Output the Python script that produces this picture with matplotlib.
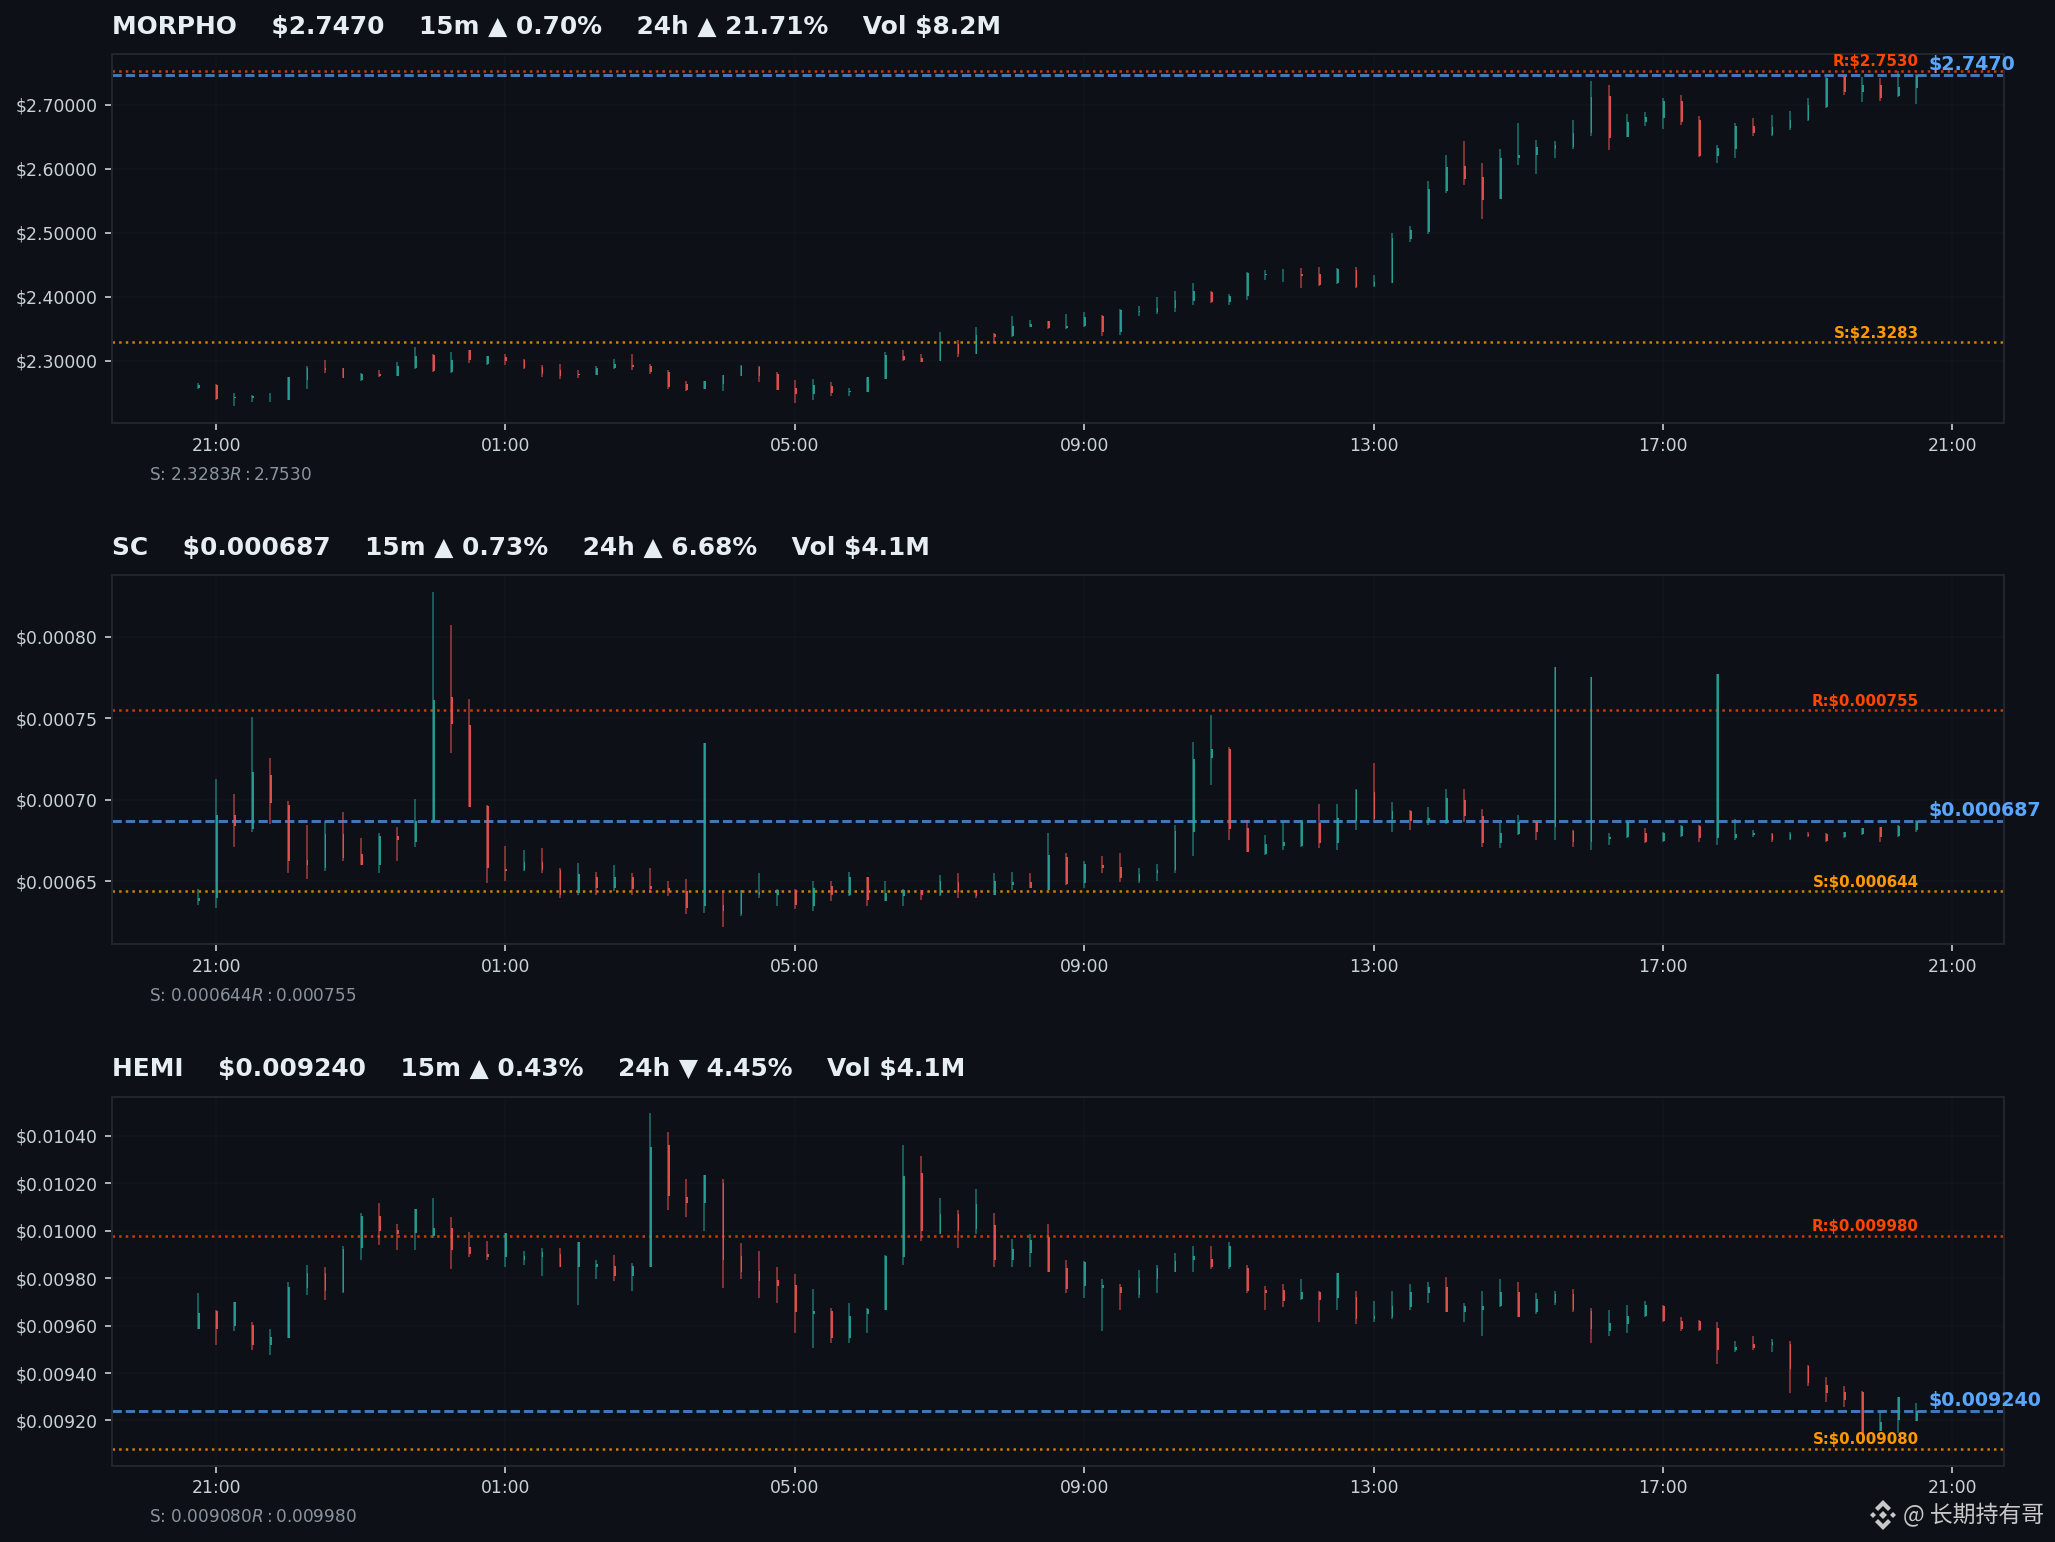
import numpy as np
import matplotlib
matplotlib.use("Agg")
import matplotlib.pyplot as plt
from matplotlib.patches import Polygon
from matplotlib.ticker import FuncFormatter

BG = "#0d1117"
UP = "#26a69a"
DOWN = "#ef5350"

xtick_labels = ["21:00", "01:00", "05:00", "09:00", "13:00", "17:00", "21:00"]
xtick_index = [1, 17, 33, 49, 65, 81, 97]

morpho_high = [2.265,2.2635,2.2495,2.2464,2.2495,2.2745,2.2917,2.3016,2.2885,2.2807,
2.2859,2.2984,2.3219,2.3104,2.3135,2.3167,2.3073,2.3109,2.3026,2.2932,
2.2953,2.2854,2.2917,2.3031,2.3109,2.2953,2.2854,2.2688,2.2688,2.2776,
2.2932,2.2917,2.2823,2.2698,2.2719,2.2672,2.2578,2.2745,2.3135,2.3167,
2.3109,2.3448,2.3328,2.3526,2.3432,2.3703,2.3641,2.3625,2.3729,2.3766,
2.3714,2.3807,2.3859,2.40,2.4089,2.4214,2.4089,2.4042,2.4385,2.4422,
2.4438,2.4453,2.4469,2.4453,2.4469,2.4344,2.50,2.5109,2.5813,2.6219,
2.6438,2.6094,2.6313,2.6719,2.6453,2.6438,2.6766,2.7375,2.7313,2.6859,
2.6891,2.7109,2.7156,2.6828,2.6375,2.6719,2.6797,2.6844,2.6906,2.7109,
2.7438,2.7469,2.7438,2.7422,2.7530,2.7484]
morpho_low = [2.255,2.238,2.2286,2.2349,2.2359,2.238,2.2552,2.2802,2.2724,2.2677,
2.274,2.2755,2.2875,2.2828,2.2802,2.2969,2.2938,2.2938,2.2865,2.275,
2.2719,2.2734,2.2771,2.2875,2.2849,2.2786,2.2552,2.2521,2.2552,2.2521,
2.2755,2.2661,2.2536,2.2333,2.2391,2.2453,2.2453,2.2516,2.2719,2.299,
2.2974,2.30,2.3052,2.3109,2.3271,2.3365,2.3521,2.349,2.349,2.3531,
2.3391,2.3396,2.3693,2.3724,2.3755,2.3875,2.3906,2.3875,2.3943,2.4266,
2.4234,2.4141,2.4172,2.4203,2.4141,2.4156,2.4219,2.4859,2.4984,2.5625,
2.575,2.5219,2.5531,2.6063,2.5922,2.6172,2.6313,2.6516,2.6297,2.65,
2.6672,2.6625,2.6688,2.6188,2.6094,2.6172,2.6516,2.6516,2.6609,2.675,
2.6953,2.7156,2.7047,2.7063,2.7125,2.7016]
morpho_open = [2.257,2.2625,2.2411,2.2422,2.2427,2.239,2.2703,2.2891,2.288,2.2703,
2.2797,2.2755,2.2891,2.3094,2.2823,2.3167,2.2953,2.3057,2.3016,2.2901,
2.2859,2.2797,2.2771,2.2885,2.2938,2.2922,2.2818,2.2641,2.2552,2.2641,
2.2755,2.2906,2.2786,2.2578,2.2474,2.2609,2.2505,2.2516,2.2719,2.3078,
2.3042,2.30,2.3266,2.3109,2.3422,2.3391,2.3531,2.3615,2.3505,2.3542,
2.3703,2.3443,2.3766,2.3766,2.3818,2.3938,2.4078,2.3917,2.4005,2.4339,
2.4349,2.4359,2.4359,2.4219,2.4422,2.4161,2.4219,2.4906,2.5005,2.5656,
2.6047,2.5875,2.5531,2.6172,2.6219,2.6313,2.6344,2.6563,2.7141,2.65,
2.6734,2.6797,2.7063,2.6766,2.6203,2.6313,2.6672,2.6531,2.6641,2.6766,
2.6969,2.7443,2.7203,2.7313,2.7141,2.7266]
morpho_close = [2.2625,2.240,2.2432,2.2453,2.2437,2.2745,2.2885,2.2859,2.2724,2.2797,
2.2755,2.2922,2.3078,2.2833,2.3016,2.3005,2.3068,2.2995,2.288,2.2786,
2.2766,2.2771,2.2891,2.2953,2.2906,2.2828,2.2589,2.2547,2.2677,2.2776,
2.2922,2.2755,2.2547,2.2474,2.2625,2.2495,2.2531,2.2745,2.3094,2.3005,
2.2984,2.3302,2.3109,2.3406,2.3375,2.3547,2.3578,2.3505,2.3547,2.3688,
2.3453,2.3797,2.3781,2.3823,2.3953,2.4094,2.3917,2.4016,2.437,2.4359,
2.4359,2.4328,2.4188,2.4438,2.4156,2.4234,2.4917,2.5047,2.5688,2.6031,
2.5844,2.5516,2.6172,2.6219,2.6344,2.6375,2.6563,2.7125,2.6484,2.6734,
2.6813,2.7063,2.6734,2.6198,2.6328,2.6672,2.6563,2.6656,2.6766,2.70,
2.7422,2.7203,2.7313,2.7099,2.7281,2.7470]

# SC and HEMI prices are listed in millionths of a dollar
sc_high = [645.7,712.8,703.7,750.6,725.6,699.4,684.8,687,692.7,676.8,
679.9,683.5,700.6,827.4,807.3,761.6,697,672,669.5,670.7,
658.5,661.6,656.1,659.8,654.9,658.5,650.6,651.8,734.8,643.9,
645.1,654.9,645.7,645.7,650.6,650,656.1,653,650.6,645.7,
645.1,653.7,654.9,645.1,654.9,656.1,654.9,679.9,667.7,662.8,
665.9,667.7,658.5,661,684.8,735.4,751.8,732.3,687.8,678.7,
686.6,687.8,697.6,697.6,706.7,722.6,698.8,693.9,695.7,706.7,
706.7,694.5,686,690.9,686.6,781.1,681.7,775,679.9,686.6,
682.9,680.5,684.8,684.8,776.8,688.4,681.7,679.9,680.5,680.5,
679.9,680.5,682.9,683.5,684.8,687.8]
sc_low = [635.6,633.5,671.3,680.5,685.4,655.5,651.8,656.7,662.8,659.8,
654.9,662.8,671.3,686.6,728.7,695.7,648.8,650.6,656.7,654.9,
639.6,641.5,641.5,643.9,641.5,642.7,640.9,629.9,630.5,622,
628.7,639.6,634.8,632.9,631.7,637.8,640.9,634.8,637.8,634.8,
638.4,640.9,639.6,639.6,641.5,644.5,646.3,644.5,647.6,646.3,
654.9,649.4,648.8,650.6,654.9,665.9,709.1,675.6,668.3,666.5,
669.5,671.3,670.7,669.5,681.7,687.8,680.5,681.7,684.8,685.4,
686.6,671.3,670.7,678.7,675.6,675.6,671.3,669.5,672.6,676.8,
673.8,674.4,677.4,674.4,672.6,675.6,677.4,674.4,675.6,677.4,
674.4,676.8,678.7,674.4,677.4,680.5]
sc_open = [638,639.6,690.9,682.3,715.2,697,663.4,658.5,679.3,667.1,
660.4,678,674.4,687,762.8,745.7,696.3,657.9,657.3,662.2,
657.3,642.7,653,646.3,653,647,646.3,643.9,634.8,635.4,
629.9,641.5,641.5,645.1,634.8,647,641.5,652.6,637.8,640.9,
644.5,641.5,649.4,644.5,641.5,647.6,649.4,645.1,665.2,648.8,
660.4,659.1,650.6,655.5,657.3,680.5,725.6,731.1,682.9,667.1,
672,672,685.8,673.8,687,704.9,688.4,693.3,687,686,
700,690.2,673.8,679.3,686.4,683.5,681.1,674.4,676,677,
679.7,674.8,678,684.1,676.8,676.8,678.7,679.3,676,679.3,
679.3,677.2,679.1,683.1,678,681.7]
sc_close = [640,690.9,683.7,717.1,698.2,662.8,659.8,679.3,664.6,660.4,
678,675.6,687,761,746.3,695.7,658.5,656.7,662.2,657.3,
641.5,654.3,646.3,653,645.7,645.7,643.9,633.5,734.8,631.7,
644.5,643.3,645.1,635.4,646.3,641.5,653,638.4,642.7,645.1,
641.5,650,643.3,640.9,650,649.4,646.3,666.5,648.2,661,
658.5,652.4,654.3,657.3,681.1,725,731.1,682.3,668.3,673.2,
674.4,686.6,673.8,689,706.1,688.4,693.3,687.2,689,701.2,
690.2,673.8,679.9,686.6,680.5,781.1,674.4,775,677.4,686.4,
674.4,679.7,684.1,676.8,776.8,679.3,679.9,675.6,679.3,677.8,
675,680.1,682.5,677.4,684.1,687]

hemi_high = [9737,9665,9699,9615,9585,9783,9855,9846,9935,10074,
10116,10027,10091,10137,10057,9994,9956,9990,9914,9926,
9926,9952,9876,9897,9863,10495,10415,10217,10234,10217,
9947,9914,9846,9817,9754,9674,9695,9674,9897,10364,
10314,10137,10086,10175,10074,9964,9985,10027,9876,9872,
9796,9775,9834,9855,9905,9935,9935,9952,9855,9766,
9775,9796,9745,9821,9745,9703,9745,9775,9783,9804,
9695,9745,9796,9783,9737,9745,9754,9674,9665,9686,
9703,9686,9636,9623,9615,9535,9556,9543,9535,9434,
9383,9345,9324,9236,9299,9274]
hemi_low = [9585,9518,9577,9497,9476,9547,9728,9707,9737,9876,
9939,9918,9918,9968,9838,9888,9876,9846,9855,9808,
9846,9686,9796,9787,9745,9846,10086,10057,9998,9758,
9796,9716,9695,9568,9505,9526,9526,9568,9665,9855,
9956,9985,9926,9985,9846,9846,9846,9825,9737,9716,
9577,9665,9716,9737,9825,9825,9838,9838,9737,9665,
9678,9707,9615,9665,9606,9615,9627,9665,9695,9657,
9615,9556,9678,9636,9648,9686,9657,9526,9556,9568,
9636,9615,9577,9577,9438,9488,9497,9488,9316,9345,
9278,9257,9139,9156,9147,9198]
hemi_open = [9585,9661,9598,9602,9518,9547,9758,9821,9741,9926,
10061,10002,9990,9977,10011,9931,9901,9888,9876,9888,
9901,9846,9846,9851,9808,9846,10360,10141,10116,10200,
9893,9830,9792,9771,9648,9661,9547,9650,9665,9888,
10242,9985,10069,10006,10023,9876,9905,9974,9842,9766,
9758,9762,9728,9796,9825,9876,9880,9846,9842,9750,
9750,9712,9744,9716,9720,9627,9636,9678,9737,9762,
9657,9665,9682,9741,9657,9695,9733,9661,9577,9606,
9640,9682,9619,9619,9589,9497,9522,9518,9522,9430,
9350,9320,9320,9156,9202,9198]
hemi_close = [9653,9585,9699,9518,9552,9762,9821,9745,9922,10061,
9998,9985,10091,10011,9918,9901,9888,9990,9893,9910,
9846,9952,9859,9808,9851,10352,10145,10116,10234,9876,
9825,9787,9766,9657,9661,9547,9640,9672,9893,10230,
9998,10069,9998,10112,9876,9922,9960,9825,9754,9870,
9771,9737,9800,9842,9872,9893,9846,9935,9745,9737,
9703,9741,9707,9821,9627,9640,9682,9741,9762,9657,
9682,9682,9741,9636,9712,9733,9665,9585,9611,9640,
9686,9619,9585,9581,9497,9510,9505,9531,9417,9358,
9316,9286,9139,9194,9299,9240]

MICRO = 1e-6
panels = [
    dict(o=np.array(morpho_open), h=np.array(morpho_high), l=np.array(morpho_low), c=np.array(morpho_close),
         price=2.7470, sup=2.3283, res=2.7530, fmt="{:.4f}",
         title="MORPHO    \\$2.7470    15m ▲ 0.70%    24h ▲ 21.71%    Vol \\$8.2M",
         yticks=[2.3, 2.4, 2.5, 2.6, 2.7]),
    dict(o=np.array(sc_open)*MICRO, h=np.array(sc_high)*MICRO, l=np.array(sc_low)*MICRO, c=np.array(sc_close)*MICRO,
         price=0.000687, sup=0.000644, res=0.000755, fmt="{:.6f}",
         title="SC    \\$0.000687    15m ▲ 0.73%    24h ▲ 6.68%    Vol \\$4.1M",
         yticks=[0.00065, 0.00070, 0.00075, 0.00080]),
    dict(o=np.array(hemi_open)*MICRO, h=np.array(hemi_high)*MICRO, l=np.array(hemi_low)*MICRO, c=np.array(hemi_close)*MICRO,
         price=0.009240, sup=0.009080, res=0.009980, fmt="{:.6f}",
         title="HEMI    \\$0.009240    15m ▲ 0.43%    24h ▼ 4.45%    Vol \\$4.1M",
         yticks=[0.0092, 0.0094, 0.0096, 0.0098, 0.0100, 0.0102, 0.0104]),
]

W, H = 2055, 1542
fig = plt.figure(figsize=(W/150, H/150), dpi=150, facecolor=BG)
tops = [54, 575, 1096.7]
AX_H = 369
AX_L, AX_R = 112, 2004

for p, top in zip(panels, tops):
    ax = fig.add_axes([AX_L/W, 1-(top+AX_H)/H, (AX_R-AX_L)/W, AX_H/H], facecolor=BG)
    x = np.arange(len(p["o"]))
    up = p["c"] >= p["o"]
    colors = np.where(up, UP, DOWN)
    ax.vlines(x, p["l"], p["h"], colors=colors, linewidth=0.8, alpha=0.6, zorder=3)
    ax.bar(x, np.abs(p["c"]-p["o"]), bottom=np.minimum(p["o"], p["c"]), width=0.095, align="edge",
           color=colors, alpha=0.9, linewidth=0, zorder=3)
    ax.axhline(p["res"], color="#ff4500", ls=":", lw=1.2, alpha=0.8, zorder=2)
    ax.axhline(p["sup"], color="#ff9800", ls=":", lw=1.2, alpha=0.8, zorder=2)
    ax.axhline(p["price"], color="#58a6ff", ls=(0, (3.2, 1.35)), lw=1.4, alpha=0.7, zorder=2)
    ax.margins(x=0.05, y=0.05)
    ax.set_xticks(xtick_index)
    ax.set_xticklabels(xtick_labels)
    ax.set_yticks(p["yticks"])
    ax.yaxis.set_major_formatter(FuncFormatter(lambda v, _: f"\\${v:.5f}"))
    ax.tick_params(colors="#c9d1d9", labelsize=8.3)
    ax.tick_params(axis="x", pad=3)
    ax.grid(True, color="#ffffff", alpha=0.02, lw=0.8)
    ax.set_axisbelow(True)
    for s in ax.spines.values():
        s.set_color("#21262d")
        s.set_linewidth(1.0)
    ax.set_title(p["title"], loc="left", color="#e6edf3", fontsize=11.97, fontweight="bold", pad=9.8)
    lastx = x[-1]
    fs = p["fmt"]
    ax.annotate("R:\\$" + fs.format(p["res"]), (lastx, p["res"]), xytext=(1.2, 0.7), textcoords="offset points",
                ha="right", va="bottom", color="#ff4500", fontsize=7.2, fontweight="bold")
    ax.annotate("S:\\$" + fs.format(p["sup"]), (lastx, p["sup"]), xytext=(1.2, 0.7), textcoords="offset points",
                ha="right", va="bottom", color="#ff9800", fontsize=7.2, fontweight="bold")
    ax.annotate("\\$" + fs.format(p["price"]), (lastx, p["price"]), xytext=(6, 0.4), textcoords="offset points",
                ha="left", va="bottom", color="#58a6ff", fontsize=9.1, fontweight="bold", annotation_clip=False)
    ax.text(0.0195, -0.14, f"S: ${fs.format(p['sup'])}  R: ${fs.format(p['res'])}", transform=ax.transAxes,
            ha="left", va="center", color="#8b949e", fontsize=8.1)

# watermark
fig.text(1903/W, 1-1515/H, "@ 长期持有哥", ha="left", va="center", color="#c8c8c8", fontsize=11,
         family=["Noto Sans CJK SC", "DejaVu Sans"])
cx, cy = 1883, 1515
def diamond(dx, dy, r):
    pts = [(cx+dx, cy+dy-r), (cx+dx+r, cy+dy), (cx+dx, cy+dy+r), (cx+dx-r, cy+dy)]
    return [(a/W, 1-b/H) for a, b in pts]
def chevron(sign):
    pts = [(cx-8, cy+sign*7), (cx, cy+sign*15), (cx+8, cy+sign*7), (cx+5, cy+sign*4), (cx, cy+sign*9), (cx-5, cy+sign*4)]
    return [(a/W, 1-b/H) for a, b in pts]
for poly in [diamond(0, 0, 4), diamond(-10, 0, 3), diamond(10, 0, 3), chevron(-1), chevron(1)]:
    fig.add_artist(Polygon(poly, closed=True, transform=fig.transFigure, facecolor="#c8c8c8", edgecolor="none"))

fig.savefig("out.png", dpi=150, facecolor=BG)
